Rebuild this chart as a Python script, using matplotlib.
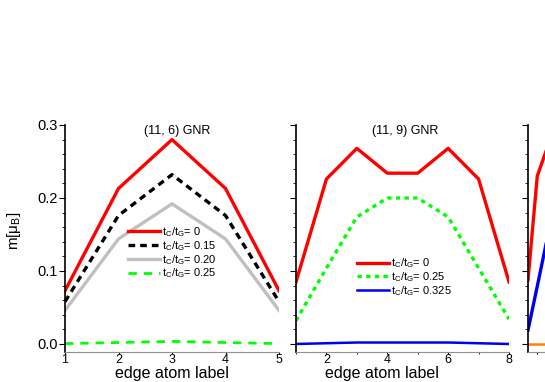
import matplotlib
matplotlib.use('Agg')
import matplotlib.pyplot as plt
from matplotlib.ticker import MultipleLocator

plt.rcParams['font.family'] = ['Liberation Sans', 'DejaVu Sans']
plt.rcParams['mathtext.default'] = 'regular'

# (11, 6) GNR
atoms_6 = [1, 2, 3, 4, 5]
m6_t0 = [0.073, 0.213, 0.280, 0.213, 0.073]
m6_t015 = [0.058, 0.176, 0.232, 0.176, 0.058]
m6_t020 = [0.046, 0.144, 0.192, 0.144, 0.046]
m6_t025 = [0.0005, 0.002, 0.0035, 0.002, 0.0005]

# (11, 9) GNR
atoms_9 = [1, 2, 3, 4, 5, 6, 7, 8]
m9_t0 = [0.085, 0.226, 0.268, 0.234, 0.234, 0.268, 0.226, 0.085]
m9_t025 = [0.032, 0.104, 0.174, 0.200, 0.200, 0.174, 0.104, 0.034]
m9_t0325 = [0.000, 0.001, 0.002, 0.002, 0.002, 0.002, 0.001, 0.000]

# third panel (cut off at the right edge)
atoms_3 = [1, 2, 3]
m3_red = [0.088, 0.230, 0.266]
m3_blue = [0.019, 0.079, 0.140]
m3_orange = [0.0, 0.0, 0.0]

lab = r't$_C$/t$_G$= '

W, H = 545.0, 382.0
fig = plt.figure(figsize=(W / 100, H / 100), dpi=100)

def px_axes(x0, x1, ytop, ybot):
    return fig.add_axes([x0 / W, (H - ybot) / H, (x1 - x0) / W, (ybot - ytop) / H])

ax1 = px_axes(65, 279, 125, 352)
ax2 = px_axes(296, 509, 125, 352)
ax3 = px_axes(528, 741, 125, 352)

for ax in (ax1, ax2, ax3):
    ax.set_ylim(-0.011, 0.3)
    ax.yaxis.set_major_locator(MultipleLocator(0.1))
    ax.yaxis.set_minor_locator(MultipleLocator(0.02))
    ax.spines['top'].set_visible(False)
    ax.spines['right'].set_visible(False)
    ax.spines['bottom'].set_color('#909090')
    ax.spines['left'].set_linewidth(1.2)
    ax.tick_params(axis='y', which='major', direction='out', length=4, labelsize=10.5, pad=1)
    ax.tick_params(axis='y', which='minor', direction='out', length=2.5)
    ax.tick_params(axis='x', which='major', direction='out', length=1.5, labelsize=9, pad=0)
    ax.tick_params(axis='x', which='minor', direction='out', length=1.2)
    ax.patch.set_alpha(0)

leg_kw = dict(loc='upper left', frameon=False, fontsize=8, handlelength=2.9,
              handletextpad=0.2, borderpad=0, borderaxespad=0, labelspacing=0)

ax1.plot(atoms_6, m6_t0, color='#ff0000', lw=2.4, label=lab + '0')
ax1.plot(atoms_6, m6_t015, color='black', lw=2.4, ls=(0, (2, 1.5)), label=lab + '0.15')
ax1.plot(atoms_6, m6_t020, color='#c0c0c0', lw=2.4, label=lab + '0.20')
ax1.plot(atoms_6, m6_t025, color='#00ff00', lw=2.0, ls=(0, (3, 2.5)), label=lab + '0.25')
ax1.set_xlim(1, 5)
ax1.xaxis.set_major_locator(MultipleLocator(1))
ax1.set_yticks([0.0, 0.1, 0.2, 0.3])
ax1.set_yticklabels(['0.0', '0.1', '0.2', '0.3'])
ax1.text(0.523, 0.974, '(11, 6) GNR', transform=ax1.transAxes, ha='center', va='center', fontsize=9)
ax1.set_ylabel(r'm[$\mu_B$]', fontsize=11, va='center')
ax1.yaxis.set_label_coords(-0.24, 0.533)
ax1.set_xlabel('edge atom label', fontsize=11.5, va='baseline')
ax1.xaxis.set_label_coords(0.5, -0.1159)
ax1.legend(bbox_to_anchor=(0.294, 0.559), **leg_kw)

ax2.plot(atoms_9, m9_t0, color='#ff0000', lw=2.4, label=lab + '0')
ax2.plot(atoms_9, m9_t025, color='#00ff00', lw=2.4, ls=(0, (1.3, 1.3)), label=lab + '0.25')
ax2.plot(atoms_9, m9_t0325, color='#0000ee', lw=1.8, label=lab + '0.325')
ax2.set_xlim(1, 8)
ax2.xaxis.set_major_locator(MultipleLocator(2))
ax2.xaxis.set_minor_locator(MultipleLocator(1))
ax2.set_yticklabels([])
ax2.text(0.512, 0.974, '(11, 9) GNR', transform=ax2.transAxes, ha='center', va='center', fontsize=9)
ax2.set_xlabel('edge atom label', fontsize=11.5, va='baseline')
ax2.xaxis.set_label_coords(0.404, -0.1159)
ax2.legend(bbox_to_anchor=(0.286, 0.421), **leg_kw)

ax3.plot(atoms_3, m3_red, color='#ff0000', lw=2.4)
ax3.plot(atoms_3, m3_blue, color='#0000ee', lw=2.4)
ax3.plot(atoms_3, m3_orange, color='#ff8000', lw=1.8)
ax3.set_xlim(1, 24)
ax3.set_xticks([2])
ax3.set_xticklabels([])
ax3.set_yticklabels([])

fig.savefig('out.png', dpi=100)
